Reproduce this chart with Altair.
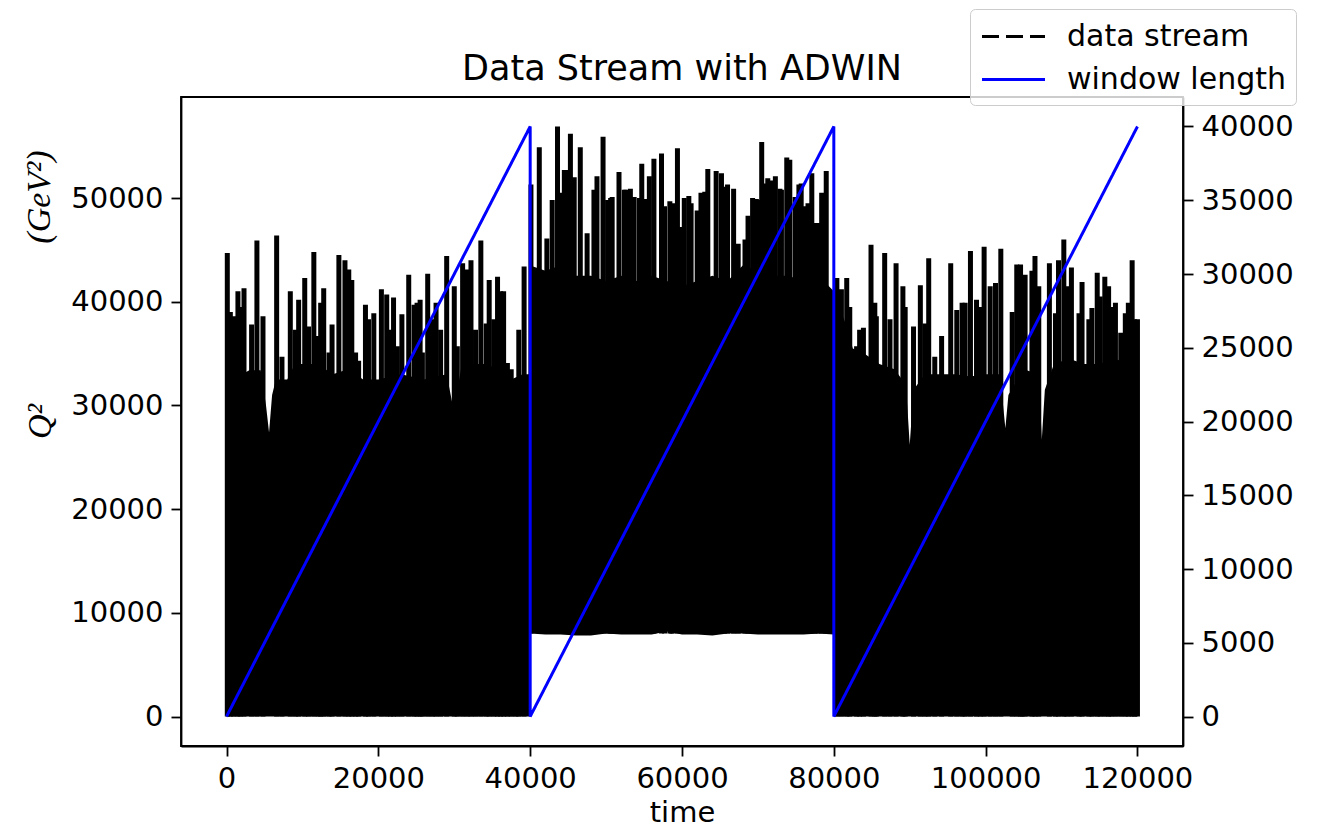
import altair as alt
import pandas as pd

# ---------------- data ----------------
# dense body of the data stream (upper and lower envelope of the solid black mass)
sec1_t = [0, 800, 1500, 3000, 4500, 5200, 5600, 6000, 6500, 8000, 9000, 12000, 14000, 16000, 18000,
          20000, 23000, 26000, 29000, 29800, 30000, 30300, 31000, 34000, 36000, 37500, 39000, 40000]
sec1_top = [37000, 34000, 32800, 33400, 33400, 30000, 27400, 31000, 32500, 32500, 34000, 34000, 33000,
            33500, 32500, 32500, 33000, 32500, 33000, 30000, 28400, 31000, 34000, 34000, 33500, 32500,
            33000, 33000]
sec1_bottom = [0] * len(sec1_t)

sec2_t = [40000, 42000, 44000, 46000, 48000, 50000, 52000, 54000, 56000, 58000, 60000, 62000, 64000,
          66000, 68000, 70000, 72000, 74000, 76000, 78000, 80000]
sec2_top = [43500, 43000, 43500, 42500, 42500, 42000, 42500, 42000, 42500, 42000, 41500, 42000, 42500,
            42000, 43500, 43000, 42500, 42500, 42000, 42500, 41000]
sec2_bottom = [8000, 7900, 7900, 7800, 7800, 8000, 7900, 7900, 7900, 8200, 7900, 7900, 7800,
               8000, 8000, 7900, 7900, 7900, 7900, 8000, 7900]

sec3_t = [80000, 81500, 82500, 84000, 86000, 88000, 89500, 90000, 90500, 92000, 94000, 96000, 98000,
          100000, 102000, 102300, 102600, 103000, 105000, 107000, 107400, 107800, 109000, 111000,
          113000, 115000, 117000, 119000, 120000]
sec3_top = [41000, 38000, 35500, 35000, 34000, 33500, 32000, 26200, 31500, 33000, 33000, 33000, 32800,
            33000, 33000, 30000, 27800, 31000, 33500, 33000, 26700, 31500, 34000, 34500, 34000, 34000,
            34500, 34000, 34000]
sec3_bottom = [0] * len(sec3_t)

# spikes of the data stream above the dense body (time, peak value)
spike_t = [100, 500, 920, 1500, 1810, 2300, 3300, 4000, 4800, 6600, 7300, 8400, 9070, 9500, 10300,
           10800, 11500, 12100, 12400, 12800, 13500, 13900, 14800, 15600, 16100, 16500, 17000, 17400,
           18300, 18700, 19400, 20400, 21100, 21600, 22000, 22500, 23100, 24000, 24700, 25100, 25500,
           25800, 26500, 27100, 27600, 28200, 29000, 30000, 30400, 31100, 31700, 32200, 32800, 33500,
           34200, 34600, 35200, 35700, 36100, 36500, 37000, 37500, 38100, 38500, 39200,
           40100, 41200, 42200, 42900, 43600, 44000, 44500, 44900, 45300, 45800, 46600, 47500, 48400,
           48800, 49600, 50200, 50600, 50800, 51700, 52400, 52600, 53200, 53700, 54400, 54700, 55300,
           55700, 56300, 57300, 57700, 58400, 58600, 58800, 59400, 59900, 60300, 60900, 61200, 62000,
           62500, 63000, 63400, 64500, 65200, 65600, 66000, 66800, 67400, 68300, 68700, 69300, 69800,
           70000, 70500, 71100, 71300, 71800, 72300, 72900, 73100, 73800, 74200, 74900, 75400, 75700,
           76200, 76600, 77100, 77500, 77900, 78400, 79000,
           80400, 81000, 81700, 82100, 83000, 83400, 83900, 84900, 85400, 85600, 86700, 87400, 88200,
           89100, 89400, 90500, 91400, 92000, 92500, 93300, 94200, 95400, 96200, 96900, 97300, 98000,
           98800, 99300, 99800, 100600, 101300, 102000, 103500, 104100, 104600, 104800, 105200, 106100,
           106500, 107000, 108400, 109200, 109600, 110300, 110700, 111300, 112300, 112700, 113600,
           114000, 114700, 115100, 115700, 116200, 116500, 117100, 117800, 118400, 118800, 119300,
           119600, 120000]
spike_v = [44700, 39000, 38600, 41000, 39500, 41300, 37800, 45900, 38600, 46400, 34700, 41000, 37300,
           40200, 42300, 37600, 44800, 36700, 39900, 41300, 35100, 37800, 44500, 44000, 43100, 42100,
           35100, 34300, 39700, 38300, 38900, 41200, 40700, 37300, 40400, 35700, 38800, 42600, 39700,
           39900, 40200, 35100, 42700, 38300, 39900, 37300, 44400, 41500, 35700, 43700, 43100, 44000,
           37300, 45900, 37900, 42100, 38300, 42400, 41000, 41000, 34100, 33500, 32500, 37300, 43400,
           51300, 54900, 46100, 49800, 56900, 50500, 52700, 52700, 56200, 52000, 54900, 46600, 50800,
           52100, 55900, 49800, 50000, 50100, 52500, 50800, 50800, 50900, 50100, 50000, 53300, 49900,
           52100, 53800, 54300, 49200, 49700, 49000, 49500, 54800, 47200, 50000, 50200, 49500, 48800,
           50500, 50600, 52800, 52600, 52400, 51100, 51300, 50900, 45600, 46000, 48300, 50000, 49900,
           49800, 55400, 51400, 51900, 51700, 52100, 50900, 50800, 53900, 53700, 50100, 51300, 51400,
           49200, 49500, 52400, 47600, 47600, 50500, 52600,
           42300, 41200, 42300, 39500, 35700, 37300, 37500, 45500, 39900, 38600, 44700, 38300, 43700,
           41500, 39500, 37600, 41600, 37900, 44200, 34700, 36700, 43700, 39200, 39900, 39900, 44900,
           40200, 39500, 45300, 41500, 41800, 45100, 39000, 43600, 43600, 41500, 42600, 43000,
           44400, 41500, 43700, 38900, 44000, 46000, 41500, 43300, 38900, 41900, 38300,
           39400, 42800, 40500, 42400, 41500, 39500, 39900, 37000, 38900, 39900, 44000,
           38300, 38300]
# lower end of the spikes: floor of the stream in each regime
regime_start = [0, 40000, 80000]
regime_floor = [0, 8000, 0]

# ADWIN window length (right axis)
window_t = [0, 40000, 40000, 80000, 80000, 120000]
window_len = [0, 40000, 0, 40000, 0, 40000]

series_names = ["data stream", "window length"]
series_colors = ["black", "#0000ff"]

x_ticks = [0, 20000, 40000, 60000, 80000, 100000, 120000]
yl_ticks = [0, 10000, 20000, 30000, 40000, 50000]
yr_ticks = [0, 5000, 10000, 15000, 20000, 25000, 30000, 35000, 40000]

# ---------------- tables ----------------
body_df = pd.DataFrame({
    "t": sec1_t + sec2_t + sec3_t,
    "top": sec1_top + sec2_top + sec3_top,
    "bottom": sec1_bottom + sec2_bottom + sec3_bottom,
    "section": ["a"] * len(sec1_t) + ["b"] * len(sec2_t) + ["c"] * len(sec3_t),
})


def floor_for(t):
    f = regime_floor[0]
    for s, v in zip(regime_start, regime_floor):
        if t > s:
            f = v
    return f


spike_df = pd.DataFrame({"t": spike_t, "peak": spike_v,
                         "base": [floor_for(t) for t in spike_t]})
win_df = pd.DataFrame({"t": window_t, "w": window_len, "i": list(range(len(window_t))),
                       "series": ["window length"] * len(window_t)})
lab_df = pd.DataFrame({"txt": ["(GeV²)"]})

xscale = alt.Scale(domain=[-6000, 126000], nice=False, zero=False)
ylscale = alt.Scale(domain=[-2845, 59745], nice=False, zero=False)
yrscale = alt.Scale(domain=[-2000, 42000], nice=False, zero=False)

x_enc = alt.X("t:Q", scale=xscale,
              axis=alt.Axis(values=x_ticks, format="d", title="time", titlePadding=5))

body = alt.Chart(body_df).mark_area(color="black", opacity=1).encode(
    x=x_enc,
    y=alt.Y("top:Q", scale=ylscale,
            axis=alt.Axis(values=yl_ticks, format="d", title="Q²",
                          titleFont="Liberation Serif", titleFontStyle="italic",
                          titleFontSize=34, titleX=-141, titleY=324,
                          titleAlign="center", titleBaseline="middle")),
    y2="bottom:Q",
    detail="section:N",
)

spikes = alt.Chart(spike_df).mark_rule(color="black", strokeWidth=5).encode(
    x=alt.X("t:Q", scale=xscale),
    y=alt.Y("base:Q", scale=ylscale),
    y2="peak:Q",
)

unit_lab = alt.Chart(lab_df).mark_text(
    font="Liberation Serif", fontStyle="italic", fontSize=34, angle=270,
    align="center", baseline="middle", color="black"
).encode(x=alt.value(-141), y=alt.value(100), text="txt:N")

window = alt.Chart(win_df).mark_line(strokeWidth=3).encode(
    x=alt.X("t:Q", scale=xscale),
    y=alt.Y("w:Q", scale=yrscale,
            axis=alt.Axis(orient="right", values=yr_ticks, format="d", title="")),
    order="i:Q",
    color=alt.Color("series:N",
                    scale=alt.Scale(domain=series_names, range=series_colors),
                    legend=alt.Legend(title=None)),
    strokeDash=alt.StrokeDash("series:N",
                              scale=alt.Scale(domain=series_names, range=[[17, 7], [1, 0]]),
                              legend=alt.Legend(title=None)),
)

left = alt.layer(body, spikes, unit_lab)

chart = alt.layer(left, window).resolve_scale(y="independent").properties(
    width=1002, height=649,
    autosize=alt.AutoSizeParams(type="none"),
    padding={"left": 173, "top": 89, "right": 129, "bottom": 81},
    title=alt.TitleParams("Data Stream with ADWIN", font="DejaVu Sans", fontSize=35,
                          fontWeight="normal", color="black", offset=10, anchor="middle",
                          dy=88),
).configure_view(
    stroke="black", strokeWidth=1.8
).configure_axis(
    labelFont="DejaVu Sans", labelFontSize=29, labelColor="black",
    titleFont="DejaVu Sans", titleFontSize=29, titleFontWeight="normal", titleColor="black",
    tickColor="black", tickSize=10, tickWidth=1.8, domainColor="black", domainWidth=1.8,
    grid=False, labelPadding=8,
).configure_legend(
    orient="none", legendX=789, legendY=-88,
    symbolType="M-2,0H2", symbolSize=992, symbolStrokeWidth=3, symbolOffset=16,
    labelFont="DejaVu Sans", labelFontSize=30, labelColor="black", labelOffset=36,
    labelLimit=400,
    rowPadding=10, padding=10, strokeColor="#cccccc", fillColor="rgba(255,255,255,0.8)",
    cornerRadius=5,
)

chart.save("out.html", embed_options={"renderer": "svg", "actions": False})
